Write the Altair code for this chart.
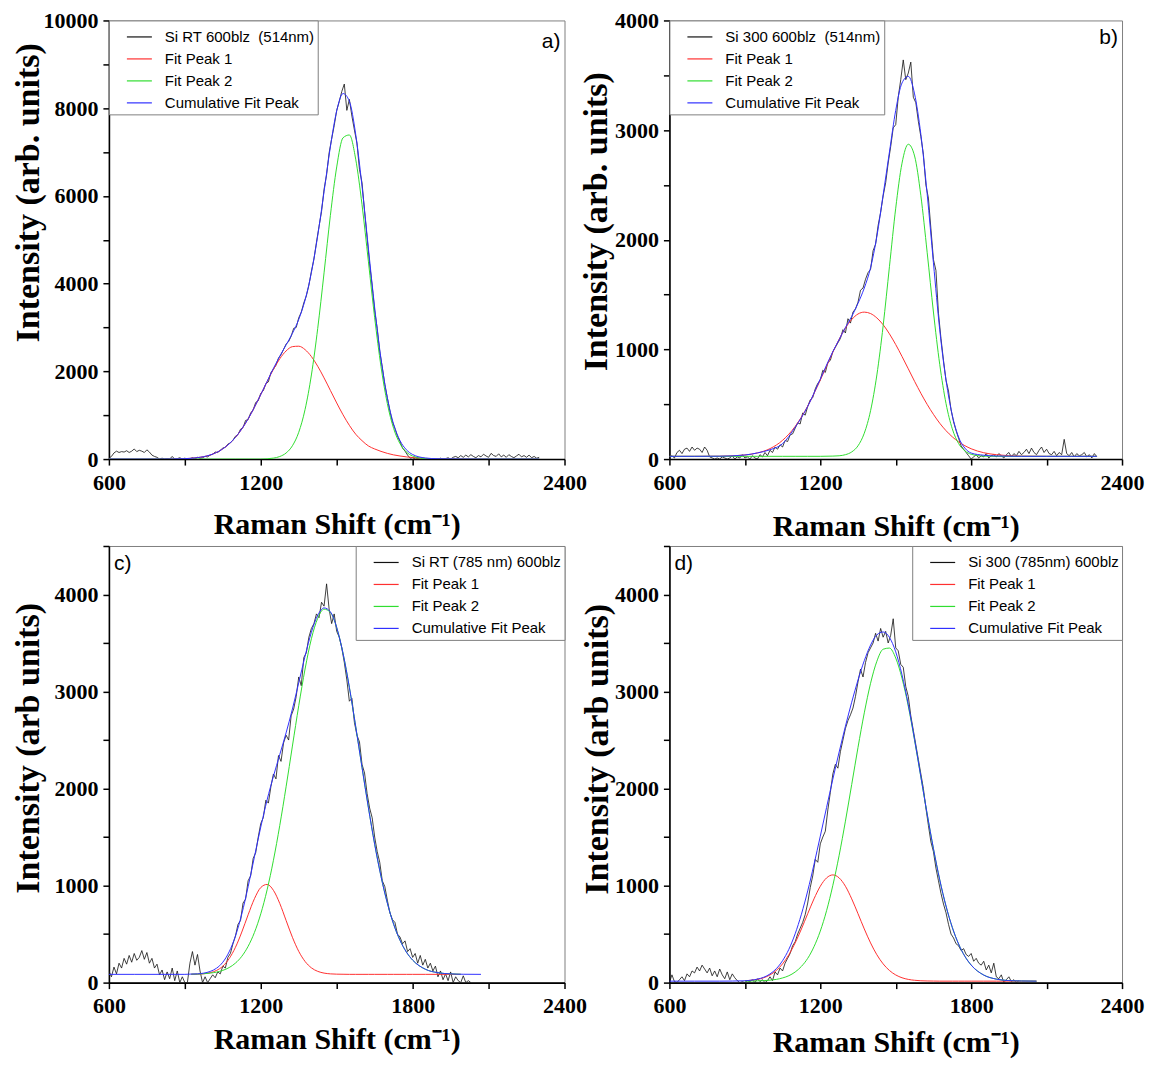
import altair as alt
import pandas as pd

# ------------------------------------------------------------------ data
# spectra: x = 600, 610, 620 ... (step 10); rows are hundreds
SPEC_Y_A = [
    20, 60, 140, 180, 150, 170, 160, 190, 150, 180,
    230, 170, 200, 180, 150, 210, 160, 90, 60, 40,
    0, 20, 0, 10, 0, 60, 0, 10, 30, 0,
    20, 0, 10, 30, 0, 40, 20, 30, 60, 50,
    90, 110, 160, 150, 200, 250, 270, 340, 370, 430,
    520, 560, 680, 720, 880, 900, 1050, 1120, 1290, 1330,
    1500, 1560, 1720, 1760, 1970, 2050, 2140, 2300, 2380, 2500,
    2620, 2680, 2800, 2980, 3000, 3220, 3350, 3560, 3720, 3960,
    4280, 4560, 4940, 5300, 5640, 6150, 6480, 6980, 7300, 7600,
    7950, 8150, 8380, 8550, 7950, 8200, 7820, 7500, 7200, 6600,
    6300, 5650, 5050, 4450, 3950, 3380, 2980, 2450, 2100, 1700,
    1400, 1100, 850, 700, 520, 400, 250, 180, 90, 20,
    30, 0, 10, 0, 20, 0, 10, 0, 0, 10,
    0, 20, 0, 10, 30, 0, 40, 60, 30, 80,
    40, 90, 50, 100, 60, 30, 80, 50, 110, 70,
    40, 130, 80, 60, 120, 50, 90, 40, 100, 60,
    30, 70, 110, 50, 80, 40, 90, 30, 60, 20,
    40,
]
SPEC_Y_B = [
    20, 30, 10, 60, 80, 50, 90, 100, 70, 110,
    80, 100, 90, 60, 110, 80, 20, 10, 0, 10,
    0, 20, 10, 0, 10, 30, 0, 20, 10, 40,
    10, 20, 0, 30, 10, 0, 40, 20, 60, 30,
    80, 60, 110, 90, 130, 110, 170, 160, 220, 230,
    280, 330, 320, 420, 400, 480, 540, 560, 640, 690,
    720, 810, 790, 880, 900, 980, 1020, 1060, 1100, 1180,
    1150, 1280, 1240, 1340, 1370, 1430, 1540, 1560, 1640, 1700,
    1730, 1900, 1960, 2130, 2250, 2400, 2520, 2700, 2850, 3020,
    3050, 3300, 3460, 3640, 3460, 3520, 3620, 3300, 3250, 3080,
    2940, 2780, 2500, 2380, 2100, 1820, 1720, 1330, 1100, 900,
    720, 620, 450, 340, 260, 190, 120, 90, 60, 30,
    0, 20, 40, 10, 30, 20, 50, 10, 30, 40,
    20, 50, 30, 10, 40, 60, 20, 50, 30, 70,
    40, 60, 90, 50, 100, 60, 40, 80, 110, 60,
    90, 50, 40, 70, 30, 60, 40, 180, 50, 30,
    60, 20, 50, 30, 40, 60, 20, 40, 10, 50,
    20,
]
SPEC_Y_C = [
    120, 60, 160, 90, 200, 150, 250, 190, 280, 210,
    300, 230, 260, 330, 240, 310, 200, 250, 150, 190,
    80, 130, 30, 110, 40, 150, 20, 120, 0, 60,
    0, 0, 200, 320, 180, 290, 120, 0, 60, 0,
    40, 80, 50, 110, 90, 170, 150, 260, 300, 400,
    480, 600, 640, 820, 860, 1050, 1100, 1280, 1340, 1500,
    1640, 1700, 1880, 1850, 2020, 2150, 2100, 2340, 2280, 2470,
    2550, 2500, 2750, 2820, 2950, 3150, 3060, 3350, 3400, 3560,
    3650, 3700, 3800, 3760, 3920, 3880, 4110, 3850, 3700, 3800,
    3620, 3560, 3450, 3300, 3120, 2900, 2930, 2680, 2550, 2480,
    2250, 2160, 1950, 1800, 1700, 1500, 1350, 1240, 1050, 990,
    850, 720, 650, 620, 500, 470, 400, 430, 320, 350,
    260, 300, 200, 280, 180, 240, 150, 200, 120, 170,
    60, 120, 30, 90, 20, 110, 0, 60, 20, 0,
    70, 0, 20, 0,
]
SPEC_Y_D = [
    0, 80, 10, 0, 30, 60, 20, 90, 60, 120,
    100, 160, 120, 180, 140, 100, 150, 70, 120, 60,
    140, 80, 40, 110, 30, 90, 50, 20, 0, 10,
    0, 20, 10, 30, 0, 40, 10, 30, 0, 20,
    60, 20, 110, 80, 150, 120, 200, 250, 300, 380,
    420, 500, 560, 620, 700, 820, 980, 1100, 1270, 1240,
    1430, 1500, 1560, 1780, 1960, 2150, 2250, 2210, 2380, 2500,
    2620, 2700, 2760, 2830, 2950, 3100, 3230, 3150, 3300, 3400,
    3450, 3500, 3600, 3520, 3650, 3560, 3620, 3500, 3580, 3750,
    3450, 3420, 3280, 3250, 3050, 2950, 2750, 2600, 2450, 2300,
    2150, 2000, 1800, 1620, 1450, 1350, 1180, 1050, 920, 810,
    720, 600, 500, 460, 400, 380, 330, 350, 290, 270,
    300, 220, 250, 200, 180, 220, 130, 180, 100, 200,
    60, 40, 80, 0, 30, 60, 10, 30, 0, 20,
]

# fitted curves
FIT_X_AB = [600, 700, 800, 900, 950, 1000, 1050, 1100, 1150, 1200,
            1250, 1275, 1300, 1325, 1350, 1375, 1400, 1425, 1450, 1475,
            1500, 1525, 1550, 1575, 1600, 1625, 1650, 1675, 1700, 1725,
            1750, 1775, 1800, 1850, 1900, 2000, 2100, 2200, 2300]
PEAK1_A = [0, 0, 0, 10, 33, 93, 232, 494, 916, 1471,
           2046, 2286, 2465, 2563, 2573, 2495, 2337, 2116, 1851, 1565,
           1279, 1009, 769, 567, 420, 300, 230, 175, 130, 95,
           70, 50, 35, 15, 6, 2, 0, 0, 0]
PEAK2_A = [0, 0, 0, 0, 0, 0, 0, 0, 0, 0,
           22, 58, 138, 303, 611, 1131, 1917, 2980, 4245, 5556,
           6660, 7325, 7389, 6837, 5800, 4513, 3220, 2107, 1265, 696,
           352, 163, 69, 10, 1, 0, 0, 0, 0]
CUM_A = [0, 0, 0, 10, 33, 93, 232, 494, 916, 1471,
         2068, 2344, 2603, 2866, 3184, 3626, 4254, 5096, 6096, 7121,
         7939, 8334, 8158, 7404, 6220, 4813, 3450, 2282, 1395, 791,
         422, 213, 104, 25, 7, 2, 0, 0, 0]
PEAK1_B = [25, 25, 26, 37, 56, 95, 171, 297, 483, 720,
           975, 1093, 1195, 1273, 1323, 1340, 1327, 1287, 1225, 1142,
           1044, 936, 823, 709, 600, 499, 408, 327, 259, 203,
           157, 122, 94, 58, 40, 27, 25, 25, 25]
PEAK2_B = [25, 25, 25, 25, 25, 25, 25, 25, 25, 25,
           27, 30, 40, 65, 121, 236, 441, 767, 1216, 1754,
           2288, 2698, 2871, 2764, 2402, 1886, 1341, 864, 507, 276,
           142, 75, 44, 27, 25, 25, 25, 25, 25]
CUM_B = [25, 25, 26, 37, 56, 85, 140, 290, 480, 730,
         980, 1090, 1200, 1300, 1420, 1560, 1745, 2030, 2410, 2800,
         3180, 3430, 3490, 3330, 2960, 2420, 1790, 1180, 720, 400,
         200, 100, 55, 35, 28, 25, 25, 25, 25]

FIT_X_C = [925, 950, 975, 1000, 1025, 1050, 1075, 1100, 1125, 1150,
           1175, 1200, 1225, 1250, 1275, 1300, 1325, 1350, 1375, 1400,
           1425, 1450, 1475, 1500, 1525, 1550, 1575, 1600, 1625, 1650,
           1675, 1700, 1725, 1750, 1775, 1800, 1850, 1900, 1950, 1990]
PEAK1_C = [86, 87, 91, 102, 125, 169, 247, 364, 521, 699,
           865, 980, 1012, 951, 816, 641, 467, 322, 218, 152,
           116, 98, 90, 87, 86, 85, 85, 85, 85, 85,
           85, 85, 85, 85, 85, 85, 85, 85, 85, 85]
PEAK2_C = [87, 88, 92, 98, 108, 126, 155, 201, 271, 374,
           517, 709, 956, 1261, 1619, 2018, 2438, 2854, 3232, 3544,
           3755, 3849, 3816, 3658, 3393, 3043, 2640, 2218, 1807, 1426,
           1095, 820, 601, 437, 316, 232, 138, 102, 90, 86]
CUM_X_C = [600, 700, 800, 900,
           925, 950, 975, 1000, 1025, 1050, 1075, 1100, 1125, 1150,
           1175, 1200, 1225, 1250, 1275, 1300, 1325, 1350, 1375, 1400,
           1425, 1450, 1475, 1500, 1525, 1550, 1575, 1600, 1625, 1650,
           1675, 1700, 1725, 1750, 1775, 1800, 1850, 1900, 1950, 2000, 2070]
CUM_C = [85, 85, 85, 85,
         88, 90, 98, 115, 148, 210, 317, 480, 707, 988,
         1297, 1604, 1883, 2127, 2350, 2574, 2820, 3091, 3365, 3611,
         3786, 3862, 3821, 3660, 3393, 3043, 2640, 2218, 1807, 1426,
         1095, 820, 601, 437, 316, 232, 138, 102, 90, 86, 85]

FIT_X_D = [900, 925, 950, 975, 1000, 1025, 1050, 1075, 1100, 1125,
           1150, 1175, 1200, 1225, 1250, 1275, 1300, 1325, 1350, 1375,
           1400, 1425, 1450, 1475, 1500, 1525, 1550, 1575, 1600, 1625,
           1650, 1675, 1700, 1725, 1750, 1775, 1800, 1850, 1900, 1950,
           2000, 2060]
PEAK1_D = [19, 24, 33, 50, 79, 125, 193, 287, 409, 553,
           710, 863, 993, 1079, 1110, 1079, 993, 863, 710, 553,
           409, 287, 193, 125, 79, 50, 33, 24, 19, 17,
           16, 15, 15, 15, 15, 15, 15, 15, 15, 15,
           15, 15]
PEAK2_D = [15, 16, 18, 20, 25, 33, 48, 71, 109, 167,
           250, 370, 531, 741, 1003, 1312, 1664, 2042, 2424, 2780,
           3085, 3312, 3436, 3448, 3345, 3137, 2848, 2497, 2118, 1738,
           1380, 1060, 789, 569, 398, 271, 181, 78, 36, 21,
           17, 15]
CUM_X_D = [600, 700, 800, 900,
           925, 950, 975, 1000, 1025, 1050, 1075, 1100, 1125, 1150,
           1175, 1200, 1225, 1250, 1275, 1300, 1325, 1350, 1375, 1400,
           1425, 1450, 1475, 1500, 1525, 1550, 1575, 1600, 1625, 1650,
           1675, 1700, 1725, 1750, 1775, 1800, 1850, 1900, 1950, 2000, 2060]
CUM_D = [15, 15, 15, 19,
         25, 36, 55, 89, 143, 226, 343, 503, 705, 945,
         1218, 1509, 1805, 2098, 2376, 2642, 2890, 3119, 3318, 3479,
         3584, 3614, 3558, 3409, 3172, 2866, 2506, 2122, 1739, 1381,
         1060, 789, 569, 398, 271, 181, 78, 36, 21, 17, 15]

NAMES = ["Si RT 600blz\u00a0 (514nm)", "Si 300 600blz\u00a0 (514nm)",
         "Si RT (785 nm) 600blz", "Si 300 (785nm) 600blz"]
FIT_NAMES = ["Fit Peak 1", "Fit Peak 2", "Cumulative Fit Peak"]
COLORS = ["#111111", "#ff3030", "#30dd30", "#3030ff"]

SERIF = "Liberation Serif"
SANS = "Liberation Sans"


def spec_x(values):
    return [600 + 10 * i for i in range(len(values))]


def panel(name, sy, fx, p1, p2, cx, cum, ymax, ystep, ylab, ytitle,
          legend_orient, letter, lx, lalign, ly, tx, ty, xty, w, h):
    domain = [name] + FIT_NAMES
    legend = alt.Legend(
        orient=legend_orient, offset=0, title=None, symbolType="stroke",
        symbolSize=625, symbolStrokeWidth=1.2, symbolOffset=14,
        labelOffset=12, padding=3, rowPadding=-3.5, labelFont=SANS,
        labelFontSize=15, labelColor="black", strokeColor="#808080",
        fillColor="white", labelLimit=400,
    )
    color = alt.Color("series:N", scale=alt.Scale(domain=domain, range=COLORS),
                      legend=legend)
    xenc = alt.X(
        "x:Q", scale=alt.Scale(domain=[600, 2400], nice=False, zero=False),
        axis=alt.Axis(
            values=list(range(600, 2401, 300)),
            labelExpr="(datum.value - 600) % 600 == 0 ? datum.label : ''",
            format="d", title="Raman Shift (cm⁻¹)", titleY=xty,
            titleBaseline="middle", labelFlush=False, labelOverlap=False,
        ),
    )
    yenc = alt.Y(
        "y:Q", scale=alt.Scale(domain=[0, ymax], nice=False),
        axis=alt.Axis(
            values=list(range(0, ymax + 1, ystep)),
            labelExpr=f"datum.value % {ylab} == 0 ? datum.label : ''",
            format="d", title=ytitle, titleX=tx, titleY=ty,
            titleBaseline="middle", titleAlign="center", titleAngle=-90,
            labelFlush=False, labelOverlap=False,
        ),
    )
    df_s = pd.DataFrame({"x": spec_x(sy), "y": sy, "series": name})
    df_1 = pd.DataFrame({"x": fx, "y": p1, "series": FIT_NAMES[0]})
    df_2 = pd.DataFrame({"x": fx, "y": p2, "series": FIT_NAMES[1]})
    df_c = pd.DataFrame({"x": cx, "y": cum, "series": FIT_NAMES[2]})

    ls = alt.Chart(df_s).mark_line(strokeWidth=0.8, clip=True).encode(
        x=xenc, y=yenc, color=color)
    l1 = alt.Chart(df_1).mark_line(strokeWidth=1, interpolate="monotone",
                                   clip=True).encode(x=xenc, y=yenc, color=color)
    l2 = alt.Chart(df_2).mark_line(strokeWidth=1, interpolate="monotone",
                                   clip=True).encode(x=xenc, y=yenc, color=color)
    lc = alt.Chart(df_c).mark_line(strokeWidth=1, interpolate="monotone",
                                   clip=True).encode(x=xenc, y=yenc, color=color)
    txt = alt.Chart(pd.DataFrame({"t": [letter]})).mark_text(
        font=SANS, fontSize=21, align=lalign, baseline="middle", color="black"
    ).encode(text="t:N", x=alt.value(lx), y=alt.value(ly))
    return alt.layer(ls, l1, l2, lc, txt).properties(width=w, height=h)


pa = panel(NAMES[0], SPEC_Y_A, FIT_X_AB, PEAK1_A, PEAK2_A, FIT_X_AB, CUM_A,
           10000, 1000, 2000, "Intensity (arb. units)", "top-left",
           "a)", 452, "right", 22, -80, 172, 66, 456, 439)
pb = panel(NAMES[1], SPEC_Y_B, FIT_X_AB, PEAK1_B, PEAK2_B, FIT_X_AB, CUM_B,
           4000, 500, 1000, "Intensity (arb. units)", "top-left",
           "b)", 449, "right", 18, -73, 201, 68, 453, 439)
pc = panel(NAMES[2], SPEC_Y_C, FIT_X_C, PEAK1_C, PEAK2_C, CUM_X_C, CUM_C,
           4500, 500, 1000, "Intensity (arb units)", "top-right",
           "c)", 5, "left", 18, -80, 202, 57, 456, 437)
pd_ = panel(NAMES[3], SPEC_Y_D, FIT_X_D, PEAK1_D, PEAK2_D, CUM_X_D, CUM_D,
            4500, 500, 1000, "Intensity (arb units)", "top-right",
            "d)", 5, "left", 18, -72, 203, 60, 453, 437)

chart = (
    alt.concat(pa, pb, pc, pd_, columns=2, bounds="flush",
               spacing={"row": 87, "column": 105})
    .resolve_scale(x="independent", y="independent", color="independent")
    .resolve_legend(color="independent")
    .resolve_axis(x="independent", y="independent")
    .properties(padding={"left": 3, "top": 0, "right": 0, "bottom": 0},
                background="white")
    .configure_view(stroke="#808080", strokeWidth=1)
    .configure_axis(
        domainColor="black", domainWidth=1.6, tickColor="black", tickWidth=1.5,
        tickSize=6, grid=False, labelFont=SERIF, labelFontWeight="bold",
        labelFontSize=22, labelColor="black", labelPadding=4,
        titleFont=SERIF, titleFontWeight="bold", titleFontSize=30,
        titleColor="black",
    )
    .configure_axisY(titleFontSize=34, labelPadding=5)
    .configure_axisX(labelPadding=7)
)

chart.save("out.html", embed_options={"renderer": "svg", "actions": False})
